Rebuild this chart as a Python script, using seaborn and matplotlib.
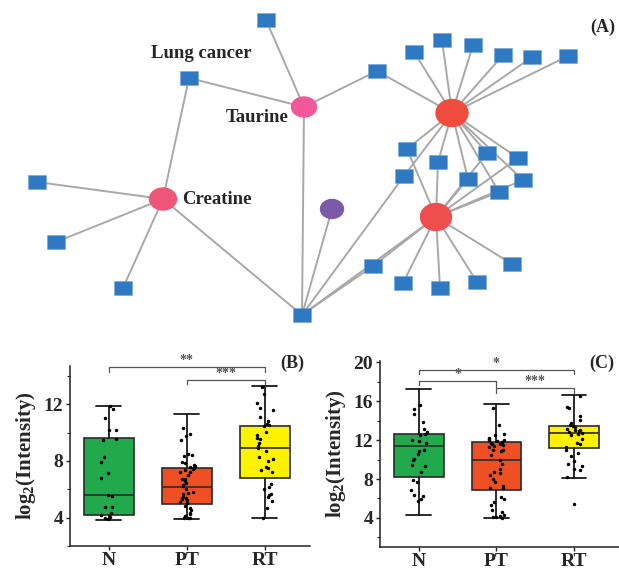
import numpy as np
import pandas as pd
import seaborn as sns
import matplotlib.pyplot as plt
from matplotlib.patches import Ellipse
from matplotlib.ticker import AutoMinorLocator

# ---------------- network (A), pixel coordinates ----------------
node_x = [266, 189, 304, 163, 37, 56, 123, 302, 332, 377, 452,
          414, 442, 473, 503, 532, 568,
          407, 438, 487, 518, 404, 468, 523, 499,
          436, 373, 403, 440, 477, 512]
node_y = [20, 78, 107, 199, 182, 242, 288, 315, 209, 71, 113,
          52, 40, 45, 55, 57, 56,
          149, 162, 153, 158, 176, 179, 180, 192,
          217, 266, 283, 288, 282, 264]
node_kind = ['sq', 'sq', 'taurine', 'creatine', 'sq', 'sq', 'sq', 'sq', 'purple', 'sq', 'red',
             'sq', 'sq', 'sq', 'sq', 'sq', 'sq',
             'sq', 'sq', 'sq', 'sq', 'sq', 'sq', 'sq', 'sq',
             'red2', 'sq', 'sq', 'sq', 'sq', 'sq']
edges = [(0, 2), (1, 2), (1, 3), (2, 7), (2, 9), (9, 10), (3, 4), (3, 5), (3, 6), (3, 7),
         (8, 7), (7, 21), (7, 26), (7, 25), (26, 25),
         (10, 11), (10, 12), (10, 13), (10, 14), (10, 15), (10, 16),
         (10, 17), (10, 21), (10, 18), (10, 22), (10, 19), (10, 20), (10, 23), (10, 24),
         (25, 17), (25, 18), (25, 22), (25, 19), (25, 20), (25, 23), (25, 24),
         (25, 27), (25, 28), (25, 29), (25, 30)]
node_labels = {1: 'Lung cancer', 2: 'Taurine', 3: 'Creatine'}

# ---------------- box plots (B) and (C) ----------------
groups = ['N', 'PT', 'RT']

b_N = [11.88, 11.65, 11.0, 10.19, 10.17, 9.58, 9.48, 8.28, 7.95, 7.15, 6.82, 5.6, 5.55,
       4.78, 4.76, 4.3, 4.17, 4.05, 3.96, 3.9]
b_PT = [10.3, 9.93, 9.77, 9.46, 8.47, 8.42, 8.35, 7.95, 7.86, 7.72, 7.65, 7.58, 7.49, 7.42,
        7.35, 7.25, 7.25, 7.01, 6.71, 6.71, 6.6, 6.43, 6.31, 6.2, 6.05, 5.81, 5.77, 5.65,
        5.46, 5.37, 5.37, 5.3, 5.23, 5.13, 5.05, 4.83, 4.66, 4.52, 4.35, 4.24, 4.12, 4.0,
        4.0, 3.95]
b_RT = [13.22, 12.71, 12.07, 11.76, 11.58, 11.1, 10.82, 10.59, 10.54, 10.47, 10.05, 9.84,
        9.6, 9.53, 9.29, 9.06, 8.9, 8.71, 8.28, 8.12, 8.0, 7.58, 7.53, 7.35, 7.25, 6.36,
        6.19, 6.0, 5.69, 5.6, 5.46, 5.18, 4.71, 4.0]

c_N = [15.66, 15.22, 14.71, 13.85, 13.17, 12.82, 12.66, 12.58, 11.97, 11.87, 11.73, 11.02,
       10.87, 10.53, 10.09, 9.92, 9.4, 9.3, 8.72, 7.87, 7.69, 6.84, 6.33, 6.22, 5.99, 5.74]
c_PT = [15.32, 13.51, 12.66, 12.48, 12.25, 12.14, 12.04, 11.97, 11.87, 11.8, 11.7, 11.63,
        11.56, 11.46, 11.36, 11.28, 11.02, 10.94, 10.84, 10.43, 9.92, 9.58, 9.06, 8.72,
        8.61, 8.38, 8.04, 7.69, 7.25, 7.12, 7.08, 6.15, 5.99, 5.64, 5.3, 4.79, 4.62, 4.28,
        4.17, 4.1, 4.04, 4.0]
c_RT = [16.58, 15.46, 15.32, 14.53, 14.09, 13.74, 13.51, 13.41, 13.33, 13.17, 13.07, 13.0,
        12.92, 12.82, 12.76, 12.66, 12.48, 12.14, 11.69, 11.63, 11.28, 10.94, 10.67, 10.33,
        9.85, 9.58, 9.3, 9.06, 8.96, 8.2, 5.4]

# box statistics (as drawn in the original)
b_whislo = [3.84, 3.89, 3.95]
b_q1 = [4.17, 4.98, 6.82]
b_med = [5.6, 6.19, 8.9]
b_q3 = [9.62, 7.53, 10.5]
b_whishi = [11.9, 11.3, 13.28]

c_whislo = [4.28, 3.95, 8.15]
c_q1 = [8.2, 6.92, 11.15]
c_med = [11.37, 9.92, 12.72]
c_q3 = [12.67, 11.82, 13.42]
c_whishi = [17.23, 15.73, 16.67]

# significance brackets: (from, to, level, drop left, drop right, label)
b_sig = [('N', 'RT', 14.6, 0.3, 0.3, '**'), ('PT', 'RT', 13.7, 0.3, 0.3, '***')]
c_sig = [('N', 'RT', 19.2, 0.4, 0.4, '*'), ('N', 'PT', 18.05, 0.35, 0.6, '*'),
         ('PT', 'RT', 17.4, 0.5, 0.5, '***')]

box_colors = ['#21A94B', '#EF5023', '#FFF200']

sns.set_style('ticks')
plt.rcParams['font.family'] = ['Liberation Serif', 'DejaVu Serif']
plt.rcParams['font.weight'] = 'bold'
plt.rcParams['axes.labelweight'] = 'bold'
plt.rcParams['mathtext.fontset'] = 'custom'
plt.rcParams['mathtext.bf'] = 'Liberation Serif:bold'
plt.rcParams['mathtext.rm'] = 'Liberation Serif:bold'
np.random.seed(3)

fig = plt.figure(figsize=(6.19, 5.70), dpi=100)

# ---- network ----
net = fig.add_axes([0, 0, 1, 1])
net.set_xlim(0, 619)
net.set_ylim(570, 0)
net.axis('off')

for a, b in edges:
    net.plot([node_x[a], node_x[b]], [node_y[a], node_y[b]], color='#A8A8A8', lw=1.4, zorder=1)

nodes = pd.DataFrame({'x': node_x, 'y': node_y, 'kind': node_kind})
rect = [(-0.6, -0.5), (0.6, -0.5), (0.6, 0.5), (-0.6, 0.5), (-0.6, -0.5)]
sns.scatterplot(data=nodes[nodes.kind == 'sq'], x='x', y='y', marker=rect, s=150,
                color='#2E79C2', edgecolor='#6FA6DA', linewidth=0.4, ax=net, zorder=3,
                legend=False)
net.set_xlim(0, 619)
net.set_ylim(570, 0)

circle_style = {'taurine': ('#F0589A', 25, 20), 'creatine': ('#EE5678', 27, 22),
                'red': ('#F04C3E', 32, 27), 'red2': ('#EF4E4F', 31, 27),
                'purple': ('#7B5BA7', 23, 19)}
for x, y, k in zip(node_x, node_y, node_kind):
    if k in circle_style:
        c, w, h = circle_style[k]
        net.add_patch(Ellipse((x, y), w, h, color=c, zorder=4))

net.text(201, 54, node_labels[1], ha='center', va='center', fontsize=13.5)
net.text(289, 117, node_labels[2], ha='right', va='center', fontsize=13.5)
net.text(182, 200, node_labels[3], ha='left', va='center', fontsize=13.5)
net.text(603, 27, '(A)', ha='center', va='center', fontsize=13)


def panel(ax, vals, stats, ylim, yticks, sigs, tag, tag_xy):
    df = pd.DataFrame({'group': np.repeat(groups, [len(v) for v in vals]),
                       'value': np.concatenate(vals)})
    sns.stripplot(data=df, x='group', y='value', order=groups, color='black', size=2.5,
                  jitter=0.11, ax=ax, zorder=5)
    whislo, q1, med, q3, whishi = stats
    bstats = [dict(whislo=whislo[i], q1=q1[i], med=med[i], q3=q3[i], whishi=whishi[i],
                   fliers=[]) for i in range(3)]
    bp = ax.bxp(bstats, positions=[0, 1, 2], widths=0.64, capwidths=0.32,
                patch_artist=True, showfliers=False, manage_ticks=False,
                boxprops=dict(lw=1.2, edgecolor='#2a2a2a'),
                medianprops=dict(lw=1.2, color='#2a2a2a'),
                whiskerprops=dict(lw=1.3, color='#1a1a1a'),
                capprops=dict(lw=1.3, color='#1a1a1a'))
    for patch, c in zip(bp['boxes'], box_colors):
        patch.set_facecolor(c)
    ax.set_xlim(-0.5, 2.58)
    ax.set_ylim(*ylim)
    ax.set_yticks(yticks)
    ax.yaxis.set_minor_locator(AutoMinorLocator(2))
    ax.tick_params(axis='both', which='major', length=3, width=1, labelsize=14, pad=2)
    ax.tick_params(axis='y', which='minor', length=2, width=0.8)
    ax.tick_params(axis='x', labelsize=14, pad=1)
    ax.set_xlabel('')
    ax.set_ylabel(r'$\mathbf{log_2}$(Intensity)', fontsize=15, fontweight='bold', labelpad=4)
    sns.despine(ax=ax)
    for s in ['left', 'bottom']:
        ax.spines[s].set_linewidth(1.1)
        ax.spines[s].set_color('#222222')
    for g1, g2, lev, d1, d2, lab in sigs:
        x1, x2 = groups.index(g1), groups.index(g2)
        ax.plot([x1, x1, x2, x2], [lev - d1, lev, lev, lev - d2], color='#555555', lw=0.9,
                clip_on=False, zorder=6)
        ax.text((x1 + x2) / 2, lev, lab, ha='center', va='bottom', fontsize=10,
                color='#555555', clip_on=False)
    fig.text(tag_xy[0] / 619, 1 - tag_xy[1] / 570, tag, ha='center', va='center',
             fontsize=13)


axB = fig.add_axes([70 / 619, (570 - 546) / 570, 240 / 619, 180 / 570])
panel(axB, [b_N, b_PT, b_RT], (b_whislo, b_q1, b_med, b_q3, b_whishi), (2, 14.7),
      [4, 8, 12], b_sig, '(B)', (292, 363))

axC = fig.add_axes([380 / 619, (570 - 547) / 570, 239 / 619, 186 / 570])
panel(axC, [c_N, c_PT, c_RT], (c_whislo, c_q1, c_med, c_q3, c_whishi), (1.0, 20.15),
      [4, 8, 12, 16, 20], c_sig, '(C)', (602, 363))

fig.savefig('out.png', dpi=100)
